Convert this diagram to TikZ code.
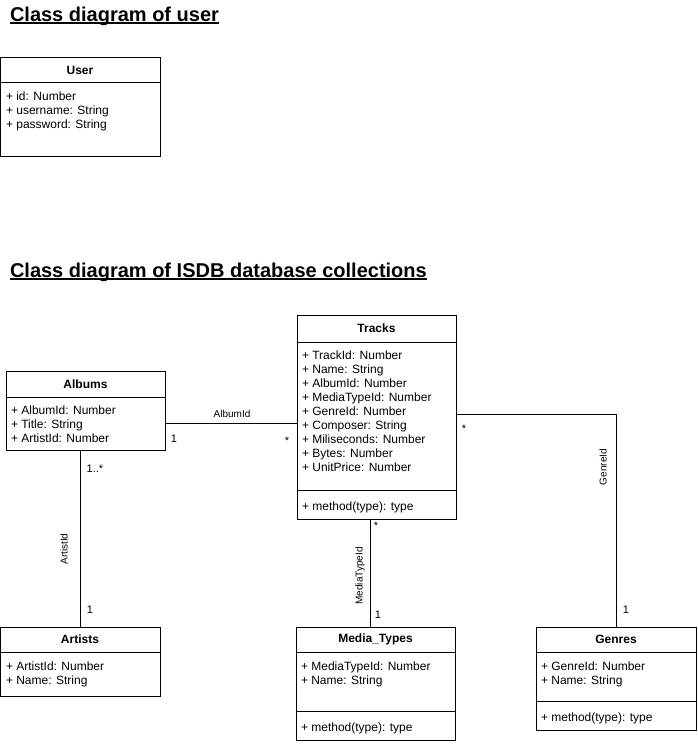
\documentclass[tikz,border=0pt]{standalone}
\usepackage{fontspec}
\setmainfont{Liberation Sans}
\begin{document}
\begin{tikzpicture}[x=1pt,y=-1pt,
  every node/.style={inner sep=0pt, outer sep=0pt},
  classbox/.style={draw=black, line width=1pt, anchor=north west},
  head/.style={font=\bfseries\fontsize{12}{14}\selectfont},
  attrs/.style={anchor=north west, align=left, font=\fontsize{12}{14}\selectfont},
  conn/.style={draw=black, line width=1pt},
  lbl/.style={font=\fontsize{10}{12}\selectfont},
  mult/.style={font=\fontsize{11}{12}\selectfont},
  title/.style={anchor=base west, font=\bfseries\fontsize{20}{24}\selectfont},
  uline/.style={draw=black, line width=1.6pt}]
\useasboundingbox (0,0) rectangle (697,744);

% titles
\node[title] (t1) at (10,21) {Class diagram of user};
\draw[uline] ([yshift=-2pt]t1.base west) -- ([yshift=-2pt]t1.base east);
\node[title] (t2) at (10,277) {Class diagram of ISDB database collections};
\draw[uline] ([yshift=-2pt]t2.base west) -- ([yshift=-2pt]t2.base east);

% User
\node[classbox, minimum width=160pt, minimum height=99pt] (user) at (0,57) {};
\node[head] (userh) at (80,70) {User};
\draw[conn] (0,82) -- (160,82);
\node[attrs] (usera) at (6,92) {+ id: Number\\+ username: String\\+ password: String};

% Albums
\node[classbox, minimum width=159pt, minimum height=79pt] (albums) at (6,371) {};
\node[head] (albumsh) at (85.5,384) {Albums};
\draw[conn] (6,397) -- (165,397);
\node[attrs] (albumsa) at (11,406) {+ AlbumId: Number\\+ Title: String\\+ ArtistId: Number};

% Tracks
\node[classbox, minimum width=159pt, minimum height=204pt] (tracks) at (297,315) {};
\node[head] (tracksh) at (376.5,328.5) {Tracks};
\draw[conn] (297,342) -- (456,342);
\node[attrs] (tracksa) at (302,351) {+ TrackId: Number\\+ Name: String\\+ AlbumId: Number\\+ MediaTypeId: Number\\+ GenreId: Number\\+ Composer: String\\+ Miliseconds: Number\\+ Bytes: Number\\+ UnitPrice: Number};
\draw[conn] (297,490) -- (456,490);
\node[attrs] (tracksm) at (302,502) {+ method(type): type};

% Artists
\node[classbox, minimum width=160pt, minimum height=69pt] (artists) at (0,627) {};
\node[head] (artistsh) at (80,639.5) {Artists};
\draw[conn] (0,652) -- (160,652);
\node[attrs] (artistsa) at (6,662) {+ ArtistId: Number\\+ Name: String};

% Media_Types
\node[classbox, minimum width=159pt, minimum height=113pt] (media) at (296,627) {};
\node[head] (mediah) at (375.5,639.5) {Media\_Types};
\draw[conn] (296,652) -- (455,652);
\node[attrs] (mediaa) at (301,662) {+ MediaTypeId: Number\\+ Name: String};
\draw[conn] (296,711) -- (455,711);
\node[attrs] (mediam) at (301,723) {+ method(type): type};

% Genres
\node[classbox, minimum width=160pt, minimum height=103pt] (genres) at (536,627) {};
\node[head] (genresh) at (616,639.5) {Genres};
\draw[conn] (536,652) -- (696,652);
\node[attrs] (genresa) at (541,662) {+ GenreId: Number\\+ Name: String};
\draw[conn] (536,701) -- (696,701);
\node[attrs] (genresm) at (541,713) {+ method(type): type};

% connectors
\coordinate (ya) at (0,423);
\coordinate (yg) at (0,414);
\coordinate (xm) at (370,0);
\draw[conn] (albums.east |- ya) -- (tracks.west |- ya);
\draw[conn] (tracks.east |- yg) -| (genres.north);
\draw[conn] (albums.south -| artists.north) -- (artists.north);
\draw[conn] (tracks.south -| xm) -- (media.north -| xm);

% labels
\node[lbl] (la) at (232,414) {AlbumId};
\node[mult] (m1) at (174,439) {1};
\node[mult] (m2) at (287,441) {*};
\node[mult] (m3) at (464,429) {*};
\node[lbl, rotate=90] (lg) at (603,467) {GenreId};
\node[mult] (m4) at (626,610) {1};
\node[mult] (m5) at (95,469) {1..*};
\node[lbl, rotate=90] (lar) at (64,549) {ArtistId};
\node[mult] (m6) at (90,610) {1};
\node[mult] (m7) at (376,526) {*};
\node[lbl, rotate=90] (lm) at (360,576) {MediaTypeId};
\node[mult] (m8) at (378,615) {1};
\end{tikzpicture}
\end{document}
